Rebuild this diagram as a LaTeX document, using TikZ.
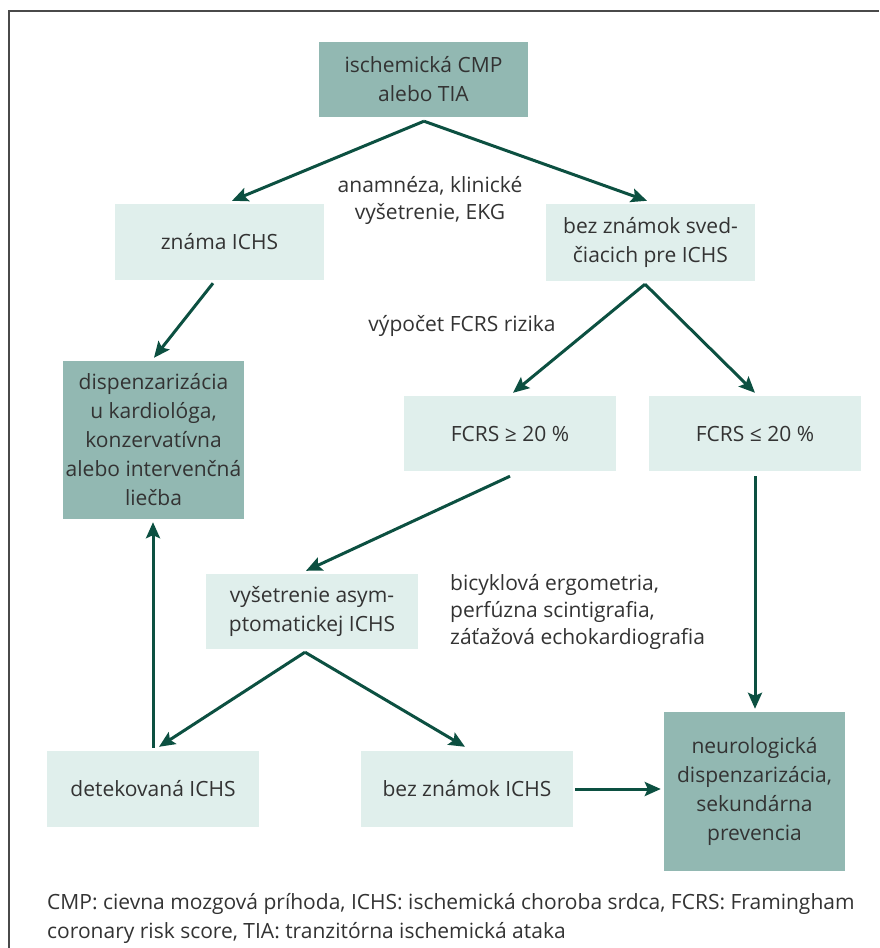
\documentclass[tikz,border=0pt]{standalone}
\usepackage{fontspec}
\setmainfont{Open Sans}
\usetikzlibrary{arrows.meta,calc}
\definecolor{darkbox}{HTML}{92B8B2}
\definecolor{lightbox}{HTML}{E0EFEC}
\definecolor{arrowc}{HTML}{0C5041}
\definecolor{txt}{HTML}{333333}
\definecolor{framec}{HTML}{4A4A4A}
\tikzset{
  box/.style={rectangle, inner sep=0pt, align=center, text=txt,
    font=\fontsize{21}{29}\selectfont},
  dbox/.style={box, fill=darkbox},
  lbox/.style={box, fill=lightbox},
  lbl/.style={inner sep=0pt, text=txt, font=\fontsize{21}{27}\selectfont},
  arr/.style={draw=arrowc, line width=3pt,
    -{Stealth[length=16pt,width=14pt,inset=3pt]}},
}
\begin{document}
\begin{tikzpicture}[x=1pt,y=-1pt]
\useasboundingbox (0,0) rectangle (879,948);
% frame
\draw[framec, line width=1.6pt] (9,948) -- (9,11) -- (879,11);

% boxes
\node[dbox, minimum width=209pt, minimum height=75pt] (top) at (423.5,79.5) {ischemická CMP\\alebo TIA};
\node[lbox, minimum width=209pt, minimum height=76pt] (known) at (219.5,242) {známa ICHS};
\node[lbox, minimum width=209pt, minimum height=77pt] (nosign) at (650.5,242.5) {bez známok sved-\\čiacich pre ICHS};
\node[dbox, minimum width=181pt, minimum height=158pt] (disp) at (153.5,440) {dispenzarizácia\\u kardiológa,\\konzervatívna\\alebo intervenčná\\liečba};
\node[lbox, minimum width=212pt, minimum height=75pt] (fhigh) at (510,433.5) {FCRS ≥ 20 \%};
\node[lbox, minimum width=212pt, minimum height=75pt] (flow) at (755,433.5) {FCRS ≤ 20 \%};
\node[lbox, minimum width=212pt, minimum height=75pt] (vys) at (312,611.5) {vyšetrenie asym-\\ptomatickej ICHS};
\node[lbox, minimum width=212pt, minimum height=76pt] (det) at (153,789) {detekovaná ICHS};
\node[lbox, minimum width=212pt, minimum height=76pt] (bezi) at (467,789) {bez známok ICHS};
\node[dbox, minimum width=181pt, minimum height=159pt] (neuro) at (754.5,791.5) {neurologická\\dispenzarizácia,\\sekundárna\\prevencia};

% labels
\node[lbl, align=center] (l1) at (430,200) {anamnéza, klinické\\vyšetrenie, EKG};
\node[lbl] (l2) at (462,326) {výpočet FCRS rizika};
\node[lbl, align=left, anchor=west] (l3) at (450,612) {bicyklová ergometria,\\perfúzna scintigrafia,\\záťažová echokardiografia};
\node[lbl, align=left, anchor=west, font=\fontsize{21}{29}\selectfont] (cap) at (47,918) {CMP: cievna mozgová príhoda, ICHS: ischemická choroba srdca, FCRS: Framingham\\coronary risk score, TIA: tranzitórna ischemická ataka};

% arrows
\draw[arr] ($(top.south)+(0.5pt,-4pt)$) -- ($(known.north)+(12.5pt,3pt)$);
\draw[arr] ($(top.south)+(0.5pt,-4pt)$) -- ($(nosign.north)+(-3.5pt,3pt)$);
\draw[arr] ($(known.south)+(-6.5pt,-3pt)$) -- ($(disp.north)+(0.5pt,3pt)$);
\draw[arr] ($(nosign.south)+(-5.5pt,-3pt)$) -- ($(fhigh.north)+(3pt,3pt)$);
\draw[arr] ($(nosign.south)+(-5.5pt,-3pt)$) -- ($(flow.north)+(0pt,3pt)$);
\draw[arr] ($(fhigh.south)+(0pt,-5pt)$) -- ($(vys.north)+(-6pt,3pt)$);
\draw[arr] ($(flow.south)+(0pt,-5pt)$) -- ($(neuro.north)+(0.5pt,3pt)$);
\draw[arr] ($(vys.south)+(-7pt,-3pt)$) -- ($(det.north)+(6pt,4pt)$);
\draw[arr] ($(vys.south)+(-7pt,-3pt)$) -- ($(bezi.north)+(-2pt,4pt)$);
\draw[arr] ($(det.north)+(0pt,3pt)$) -- ($(disp.south)+(-0.5pt,-3pt)$);
\draw[arr] ($(bezi.east)+(2pt,0pt)$) -- ($(neuro.west|-bezi.east)+(-3pt,0pt)$);
\end{tikzpicture}
\end{document}
